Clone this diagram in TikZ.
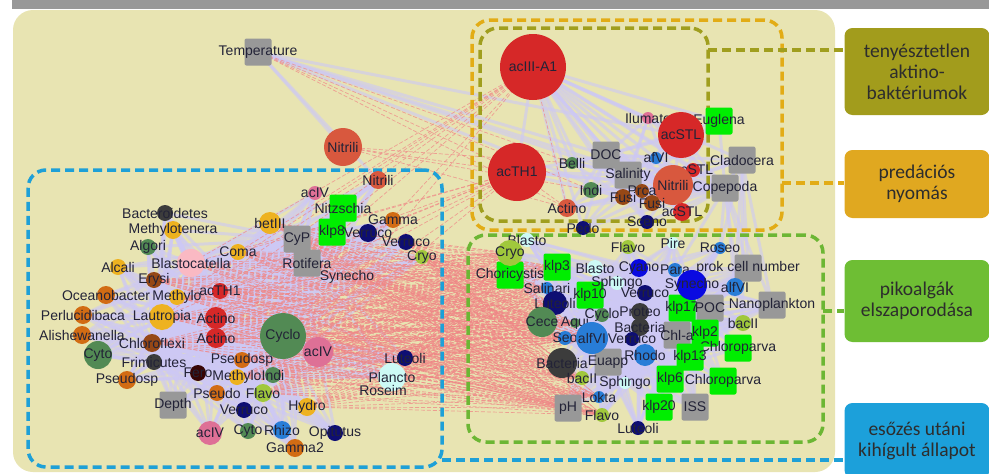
\documentclass[tikz,border=0pt]{standalone}
\usepackage{fontspec}
\setmainfont{Liberation Sans}
\newfontfamily\boxfont{Carlito}
\usetikzlibrary{positioning}
% node colours
\definecolor{redc}{RGB}{214,40,40}
\definecolor{nitcol}{RGB}{216,88,62}
\definecolor{orangec}{RGB}{210,108,20}
\definecolor{yorangec}{RGB}{238,178,32}
\definecolor{brownc}{RGB}{150,72,22}
\definecolor{darkc}{RGB}{60,60,60}
\definecolor{greenc}{RGB}{82,138,84}
\definecolor{pinkc}{RGB}{222,112,150}
\definecolor{lpinkc}{RGB}{250,185,195}
\definecolor{navyc}{RGB}{14,14,115}
\definecolor{bluec}{RGB}{40,125,215}
\definecolor{bbluec}{RGB}{10,10,225}
\definecolor{ygreenc}{RGB}{160,200,60}
\definecolor{lcyanc}{RGB}{205,250,245}
\definecolor{maroonc}{RGB}{55,5,5}
\definecolor{algc}{RGB}{0,238,0}
\definecolor{envc}{RGB}{152,152,152}
% edges, frames, legend
\definecolor{lavender}{RGB}{205,200,245}
\definecolor{pinkedge}{RGB}{240,135,135}
\definecolor{panelbg}{RGB}{232,228,178}
\definecolor{barc}{RGB}{152,152,152}
\definecolor{frameblue}{RGB}{30,160,215}
\definecolor{frameolive}{RGB}{160,158,30}
\definecolor{frameyellow}{RGB}{226,172,22}
\definecolor{framegreen}{RGB}{108,182,52}
\definecolor{legendolive}{RGB}{162,156,28}
\definecolor{legendyellow}{RGB}{224,168,32}
\definecolor{legendgreen}{RGB}{110,190,52}
\definecolor{legendblue}{RGB}{28,160,218}
\definecolor{legendtext}{RGB}{45,45,45}
\definecolor{labeltext}{RGB}{35,35,55}
\pgfdeclarelayer{panel}
\pgfdeclarelayer{edges}
\pgfdeclarelayer{frames}
\pgfsetlayers{panel,edges,frames,main}
\tikzset{
  taxon/.style={circle, inner sep=0pt, minimum size=#1pt},
  factor/.style={rectangle, rounded corners=2pt, inner sep=0pt, minimum size=27pt},
  tlabel/.style={font=\fontsize{14}{14}\selectfont, text=labeltext, inner sep=0pt},
  posedge/.style={draw=lavender, line width=3pt, opacity=0.6},
  negedge/.style={draw=pinkedge, line width=0.7pt, dash pattern=on 4pt off 2pt, opacity=0.75},
  frame/.style={line width=3.5pt, dash pattern=on 9pt off 5pt, rounded corners=18pt, inner sep=0pt},
  legendbox/.style={rounded corners=8pt, text=legendtext, align=center,
    font=\boxfont\fontsize{19.5}{21}\selectfont, minimum width=145pt, inner sep=0pt}
}

\begin{document}
\begin{tikzpicture}[x=1pt, y=-1pt]
\useasboundingbox (0,0) rectangle (989,474);
\begin{pgfonlayer}{panel}
\fill[white] (0,0) rectangle (989,474);
\fill[barc] (12,0) rectangle (989,9);
\fill[panelbg, rounded corners=20pt] (13,10) rectangle (835,472);
\end{pgfonlayer}

% environmental factors and algae
\foreach \id/\px/\py/\col/\txt in {
  temp/258/52/envc/Temperature, nitz/343/208/algc/Nitzschia, klp8/332/232/algc/klp8,
  cyp/297/239/envc/CyP, rotif/307/263/envc/Rotifera, depth/173/405/envc/Depth,
  euglena/719/121/algc/Euglena, doc/606/155/envc/DOC, salin/628/175/envc/Salinity,
  clado/742/160/envc/Cladocera, copep/725/188/envc/Copepoda, choric/510/275/algc/Choricystis,
  klp3/557/267/algc/klp3, prok/748/268/envc/prok cell number, klp10/590/295/algc/klp10,
  klp17/682/308/algc/klp17, poc/710/308/envc/POC, nano/772/305/envc/Nanoplankton,
  klp2/705/333/algc/klp2, chla/677/335/envc/Chl-a, chlorA/738/348/algc/Chloroparva,
  klp13/690/357/algc/klp13, euapp/608/362/envc/Euapp, klp6/670/379/algc/klp6,
  chlorB/723/381/algc/Chloroparva, ph/568/408/envc/pH, klp20/659/407/algc/klp20,
  iss/695/407/envc/ISS}
  \node[factor, fill=\col, label={[tlabel]center:\txt}] (\id) at (\px,\py) {};

% taxa
\foreach \id/\px/\py/\d/\col/\txt in {
  nitA/343/147/38/nitcol/Nitrili, nitB/378/180/18/nitcol/Nitrili, acIVa/315/193/14/pinkc/acIV,
  gammaA/393/220/16/orangec/Gamma, bactdA/165/213/16/darkc/Bacteroidetes,
  betIII/270/223/22/yorangec/betIII, methtA/173/230/18/yorangec/Methylotenera,
  verrA/368/233/18/navyc/Verruco, verrB/406/242/16/navyc/Verruco, cryoA/422/257/14/ygreenc/Cryo,
  algori/148/247/16/greenc/Algori, blastoc/191/263/28/lpinkc/Blastocatella,
  coma/238/252/16/yorangec/Coma, alcali/118/267/16/yorangec/Alcali,
  synechoA/347/277/1/none/Synecho, erysi/154/280/16/brownc/Erysi,
  oceano/106/295/18/orangec/Oceanobacter, methyA/177/297/16/yorangec/Methylo,
  acTHs/220/291/16/redc/acTH1, perluc/83/315/18/orangec/Perlucidibaca,
  lautro/162/317/26/yorangec/Lautropia, actinoA/216/318/22/redc/Actino,
  actinoB/216/338/20/redc/Actino, cycloA/283/336/46/greenc/Cyclo, acIVb/318/352/30/pinkc/acIV,
  alish/82/335/18/orangec/Alishewanella, chlorof/152/343/18/brownc/Chloroflexi,
  cytoA/98/355/28/greenc/Cyto, frimic/154/362/16/darkc/Frimicutes,
  pseudA/242/360/16/orangec/Pseudosp, pseudB/127/380/18/orangec/Pseudosp,
  fero/198/373/16/maroonc/Fero, methyB/237/377/16/yorangec/Methylo, indiA/273/375/16/greenc/Indi,
  pseudC/217/393/16/orangec/Pseudo, flavoA/263/393/18/ygreenc/Flavo,
  verrC/244/410/16/navyc/Verruco, hydro/307/407/18/yorangec/Hydro,
  luteA/405/358/16/navyc/Luteoli, plancto/392/377/28/lcyanc/Plancto,
  roseim/383/390/1/none/Roseim, acIVc/210/433/24/pinkc/acIV, cytoB/248/431/16/greenc/Cyto,
  rhizo/282/430/18/bluec/Rhizo, opitu/335/433/16/navyc/Opitutus, gamma2/295/448/18/orangec/Gamma2,
  acIII/533/67/66/redc/acIII-A1, acTHb/517/172/58/redc/acTH1, ilumato/648/118/12/pinkc/Ilumato,
  acSTLa/681/135/46/redc/acSTL, belli/572/163/12/greenc/Belli, afVI/656/158/12/bluec/afVI,
  acSTLb/693/170/14/redc/acSTL, nitC/673/185/40/nitcol/Nitrili, indiB/591/190/16/greenc/Indi,
  prca/642/191/14/brownc/Prca, fusiA/623/197/16/brownc/Fusi, fusiB/652/203/16/brownc/Fusi,
  acSTLc/682/212/18/redc/acSTL, actinoC/567/208/18/nitcol/Actino,
  pedo/583/228/14/navyc/Pedo, sceno/647/222/14/navyc/Sceno,
  blastoA/527/240/14/lcyanc/Blasto, cryoB/510/253/26/ygreenc/Cryo, flavoB/628/247/14/ygreenc/Flavo,
  pire/673/243/12/lcyanc/Pire, roseo/720/248/12/bluec/Roseo, blastoB/595/268/16/lcyanc/Blasto,
  cyano/639/268/18/bbluec/Cyano, para/675/270/14/bluec/Para, synechoB/692/285/30/bbluec/Synecho,
  alfVIa/735/287/18/bluec/alfVI, sphingoA/617/283/14/lcyanc/Sphingo,
  salinari/547/288/12/bluec/Salinari, verrD/645/293/16/navyc/Verruco,
  luteB/555/303/24/navyc/Luteoli, ceceN/542/322/30/greenc/Cece, aqui/575/323/10/greenc/Aqui,
  cycloB/602/315/14/greenc/Cyclo, proteo/640/312/18/darkc/Proteo, bactA/640/327/18/darkc/Bacteria,
  bacIIa/743/323/16/ygreenc/bacII, seo/565/338/14/bluec/Seo, alfVIb/592/338/32/bluec/alfVI,
  verrE/632/339/14/navyc/Verruco, rhodo/645/355/22/bluec/Rhodo, bactB/562/363/30/darkc/Bacteria,
  bacIIb/582/378/14/ygreenc/bacII, sphingoB/625/383/12/lcyanc/Sphingo, lokta/599/397/12/bluec/Lokta,
  flavoC/602/415/14/ygreenc/Flavo, luteC/638/428/14/navyc/Luteoli}
  \node[taxon=\d, fill=\col, label={[tlabel]center:\txt}] (\id) at (\px,\py) {};

\begin{pgfonlayer}{edges}
% left cluster
\foreach \src in {bactdA,methtA,algori,blastoc,coma,alcali,erysi,oceano,methyA,acTHs,perluc,
  lautro,actinoA,actinoB,cycloA,acIVb,alish,chlorof,cytoA,frimic,pseudA,pseudB,fero,methyB,
  indiA,pseudC,flavoA,verrC,hydro,acIVc,cytoB,rhizo,opitu,gamma2,depth,betIII,cyp,rotif,
  klp8,nitz,acIVa,nitB,gammaA,verrA,verrB,cryoA,luteA,plancto}
  \foreach \tgt in {lautro,blastoc,cycloA,actinoA,chlorof,pseudA,methyB,cyp,frimic,indiA}
    \draw[posedge] (\src.center) -- (\tgt.center);
% top cluster
\foreach \src in {ilumato,acSTLa,belli,afVI,acSTLb,nitC,indiB,prca,fusiA,fusiB,acSTLc,
  actinoC,doc,salin,clado,copep,euglena,pedo,sceno,acTHb}
  \foreach \tgt in {acIII,salin,nitC,doc,copep,fusiA}
    \draw[posedge] (\src.center) -- (\tgt.center);
\foreach \tgt in {nitA,nitB,acSTLa,doc,salin,nitC,fusiA}
  \draw[posedge] (temp.center) -- (\tgt.center);
\foreach \tgt in {nano,prok,roseo,alfVIa,bacIIa,para}
  \draw[posedge] (clado.center) -- (\tgt.center) (copep.center) -- (\tgt.center);
% right cluster
\foreach \src in {blastoA,cryoB,flavoB,pire,roseo,blastoB,cyano,para,synechoB,alfVIa,sphingoA,
  salinari,verrD,luteB,ceceN,aqui,cycloB,proteo,bactA,bacIIa,seo,alfVIb,verrE,rhodo,bactB,
  bacIIb,sphingoB,lokta,flavoC,luteC,choric,klp3,prok,klp10,klp17,poc,nano,klp2,chla,chlorA,
  klp13,euapp,klp6,chlorB,ph,klp20,iss}
  \foreach \tgt in {synechoB,alfVIb,bactA,chla,klp10,rhodo,euapp,cyano,klp17,sphingoB}
    \draw[posedge] (\src.center) -- (\tgt.center);
% negative links
\foreach \src in {lautro,actinoA,actinoB,cycloA,acIVb,methyA,acTHs,pseudA,indiA,flavoA,
  hydro,coma,betIII,blastoc,methyB,chlorof,erysi,cyp,rotif,synechoA,luteA,cryoA,verrB,plancto}
  \foreach \tgt in {ceceN,luteB,bactB,choric,cryoB,salinari,seo,klp3,aqui,ph,alfVIb,flavoC,bacIIb,lokta}
    \draw[negedge] (\src.center) -- (\tgt.center);
\foreach \tgt in {actinoC,acTHs,actinoA,actinoB,lautro,cycloA,indiA,methyA,coma,blastoc}
  \draw[negedge] (acIII.center) -- (\tgt.center) (acTHb.center) -- (\tgt.center);
\foreach \tgt in {acTHb,actinoC,indiB,belli}
  \draw[negedge] (temp.center) -- (\tgt.center) (nitA.center) -- (\tgt.center);
\end{pgfonlayer}

% legend
\node[legendbox, fill=legendolive, minimum height=87pt] (lbOlive) at (917,71.5)
  {tenyésztetlen\\aktino-\\baktériumok};
\node[legendbox, fill=legendyellow, minimum height=68pt] (lbYellow) at (917,184)
  {predációs\\nyomás};
\node[legendbox, fill=legendgreen, minimum height=82pt] (lbGreen) at (917,301)
  {pikoalgák\\elszaporodása};
\node[legendbox, fill=legendblue, minimum height=75pt] (lbBlue) at (917,440.5)
  {esőzés utáni\\kihígult állapot};

\begin{pgfonlayer}{frames}
\node[frame, draw=frameyellow, minimum width=310pt, minimum height=210pt] (yellowbox) at (627,125) {};
\node[frame, draw=frameolive, minimum width=228pt, minimum height=193pt] (olivebox) at (594,124.5) {};
\node[frame, draw=framegreen, minimum width=355pt, minimum height=207pt] (greenbox) at (645.5,338.5) {};
\node[frame, draw=frameblue, minimum width=414pt, minimum height=297pt] (bluebox) at (235,318.5) {};
\coordinate (oliveTap) at (708,50);
\coordinate (yellowTap) at (782,183);
\coordinate (greenTap) at (823,311);
\coordinate (blueTap) at (442,460);
\draw[frame, draw=frameolive] (oliveTap) -- (oliveTap -| lbOlive.west);
\draw[frame, draw=frameyellow] (yellowTap) -- (yellowTap -| lbYellow.west);
\draw[frame, draw=framegreen] (greenTap) -- (greenTap -| lbGreen.west);
\draw[frame, draw=frameblue] (blueTap) -- (blueTap -| lbBlue.west);
\end{pgfonlayer}
\end{tikzpicture}
\end{document}
